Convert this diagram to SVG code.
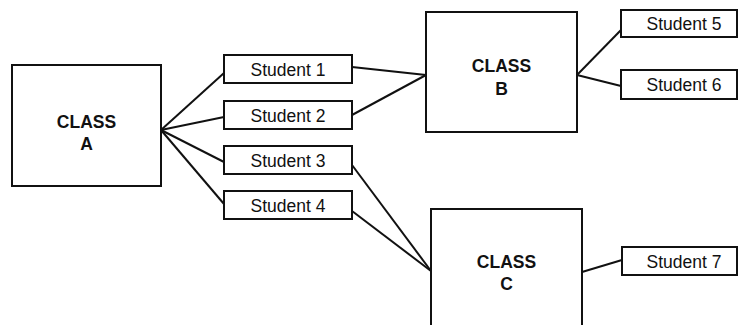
<svg xmlns="http://www.w3.org/2000/svg" width="739" height="325" viewBox="0 0 739 325">
<style>
.box{fill:#fff;stroke:#111;stroke-width:2}
.st{font-family:"Liberation Sans",Arial,sans-serif;font-size:17.5px;fill:#111;text-anchor:middle}
.cl{font-family:"Liberation Sans",Arial,sans-serif;font-size:17.5px;font-weight:bold;fill:#111;text-anchor:middle}
.conn line{stroke:#111;stroke-width:2}
</style>
<rect width="739" height="325" fill="#fff"/>
<g class="conn" id="connectors">
<line x1="161" y1="130" x2="224" y2="73"/>
<line x1="161" y1="130" x2="224" y2="117"/>
<line x1="161" y1="130" x2="224" y2="162"/>
<line x1="161" y1="130" x2="224" y2="204"/>
<line x1="352" y1="67" x2="426" y2="75"/>
<line x1="352" y1="115" x2="426" y2="75"/>
<line x1="577" y1="75" x2="621" y2="30"/>
<line x1="577" y1="75" x2="621" y2="86"/>
<line x1="352" y1="165" x2="431" y2="271"/>
<line x1="352" y1="211" x2="431" y2="271"/>
<line x1="582" y1="272" x2="622" y2="260"/>
</g>
<g id="classA"><rect class="box" x="12" y="65" width="149" height="121"/><text class="cl" x="86.5" y="128">CLASS</text><text class="cl" x="86.5" y="150">A</text></g>
<g id="classB"><rect class="box" x="426" y="12" width="151" height="120"/><text class="cl" x="501.5" y="72">CLASS</text><text class="cl" x="501.5" y="95">B</text></g>
<g id="classC"><rect class="box" x="431" y="209" width="151" height="130"/><text class="cl" x="506.5" y="268">CLASS</text><text class="cl" x="506.5" y="290">C</text></g>
<g id="student1"><rect class="box" x="224" y="55" width="128" height="28"/><text class="st" x="288" y="76">Student 1</text></g>
<g id="student2"><rect class="box" x="224" y="101" width="128" height="28"/><text class="st" x="288" y="122">Student 2</text></g>
<g id="student3"><rect class="box" x="224" y="146" width="128" height="28"/><text class="st" x="288" y="167">Student 3</text></g>
<g id="student4"><rect class="box" x="224" y="191" width="128" height="28"/><text class="st" x="288" y="212">Student 4</text></g>
<g id="student5"><rect class="box" x="621" y="10" width="116" height="27"/><text class="st" x="684" y="30">Student 5</text></g>
<g id="student6"><rect class="box" x="621" y="70" width="116" height="29"/><text class="st" x="684" y="91">Student 6</text></g>
<g id="student7"><rect class="box" x="622" y="247" width="115" height="28"/><text class="st" x="684" y="268">Student 7</text></g>
</svg>
